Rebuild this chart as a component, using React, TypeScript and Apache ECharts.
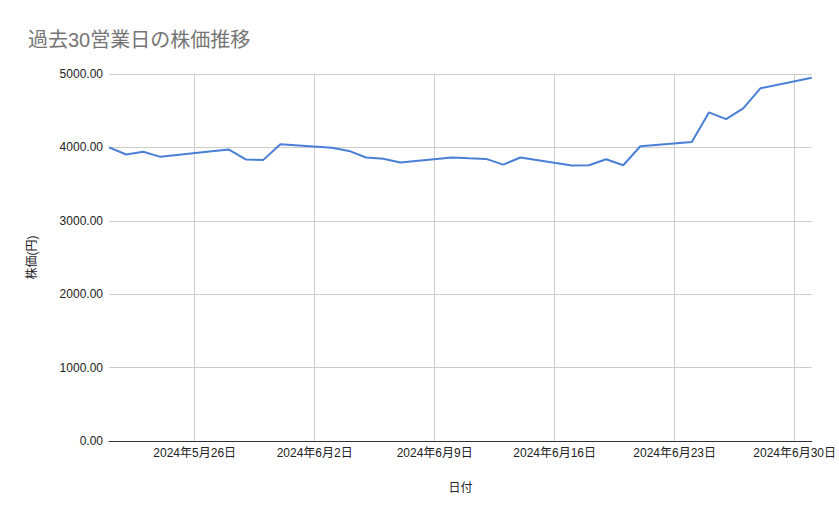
import React, { useEffect, useRef } from "react";
import * as echarts from "echarts";

const titleText = "過去30営業日の株価推移";
const xAxisName = "日付";
const yAxisName = "株価(円)";

const dates: string[] = [
  "2024-05-21", "2024-05-22", "2024-05-23", "2024-05-24",
  "2024-05-27", "2024-05-28", "2024-05-29", "2024-05-30", "2024-05-31",
  "2024-06-03", "2024-06-04", "2024-06-05", "2024-06-06", "2024-06-07",
  "2024-06-10", "2024-06-11", "2024-06-12", "2024-06-13", "2024-06-14",
  "2024-06-17", "2024-06-18", "2024-06-19", "2024-06-20", "2024-06-21",
  "2024-06-24", "2024-06-25", "2024-06-26", "2024-06-27", "2024-06-28",
  "2024-07-01",
];

const prices: number[] = [
  4000, 3903, 3940, 3871,
  3946, 3971, 3834, 3830, 4044,
  3995, 3952, 3862, 3845, 3794,
  3862, 3852, 3843, 3766, 3862,
  3752, 3757, 3839, 3757, 4016,
  4075, 4477, 4385, 4531, 4805,
  4950,
];

const tickDates: string[] = [
  "2024-05-26", "2024-06-02", "2024-06-09", "2024-06-16", "2024-06-23", "2024-06-30",
];

const xMinDate = "2024-05-21";
const xMaxDate = "2024-07-01";

const yMin = 0;
const yMax = 5000;
const yStep = 1000;

function ts(s: string): number {
  const [y, m, d] = s.split("-").map(Number);
  return new Date(y, m - 1, d).getTime();
}

export default function App() {
  const ref = useRef<HTMLDivElement>(null);

  useEffect(() => {
    if (!ref.current) return;
    const chart = echarts.init(ref.current, undefined, { renderer: "svg" });
    const font = "'Liberation Sans', Arial, 'Noto Sans CJK JP', sans-serif";
    const ticks = tickDates.map(ts);
    chart.setOption({
      animation: false,
      backgroundColor: "#ffffff",
      textStyle: { fontFamily: font },
      title: {
        text: titleText,
        left: 23,
        top: 25,
        textStyle: {
          fontFamily: font,
          fontSize: 20,
          fontWeight: "normal",
          color: "#757575",
        },
      },
      grid: { left: 109, right: 26, top: 74, bottom: 78, containLabel: false },
      xAxis: {
        type: "value",
        min: ts(xMinDate),
        max: ts(xMaxDate),
        name: xAxisName,
        nameLocation: "middle",
        nameGap: 41,
        nameTextStyle: { fontFamily: font, fontSize: 12, color: "#222222" },
        axisLine: { show: true, onZero: false, lineStyle: { color: "#333333", width: 1 } },
        axisTick: { show: false, customValues: ticks },
        axisLabel: {
          customValues: ticks,
          hideOverlap: false,
          margin: 6,
          fontSize: 12,
          color: "#222222",
          fontFamily: font,
          formatter: (v: number) => {
            const d = new Date(v);
            return `${d.getFullYear()}年${d.getMonth() + 1}月${d.getDate()}日`;
          },
        },
        splitLine: { show: true, lineStyle: { color: "#cccccc", width: 1 } },
      },
      yAxis: {
        type: "value",
        min: yMin,
        max: yMax,
        interval: yStep,
        name: yAxisName,
        nameLocation: "middle",
        nameGap: 71,
        nameRotate: 90,
        nameTextStyle: { fontFamily: font, fontSize: 12, color: "#222222" },
        axisLine: { show: false },
        axisTick: { show: false },
        axisLabel: {
          margin: 6,
          fontSize: 12,
          color: "#222222",
          fontFamily: font,
          formatter: (v: number) => v.toFixed(2),
        },
        splitLine: { show: true, lineStyle: { color: "#cccccc", width: 1 } },
      },
      series: [
        {
          type: "line",
          data: dates.map((d, i) => [ts(d), prices[i]]),
          showSymbol: false,
          symbol: "none",
          lineStyle: { color: "#4a7fd6", width: 2 },
          itemStyle: { color: "#4a7fd6" },
        },
      ],
    });
    return () => chart.dispose();
  }, []);

  return (
    <div
      ref={ref}
      style={{ position: "fixed", left: 0, top: 0, width: 839, height: 519 }}
    />
  );
}
